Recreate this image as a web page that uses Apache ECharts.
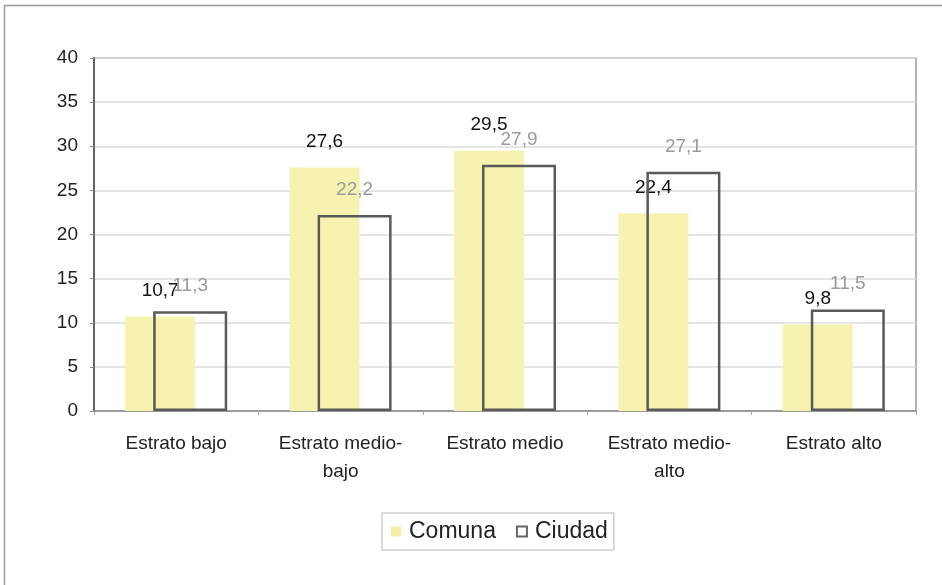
<!DOCTYPE html>
<html>
<head>
<meta charset="utf-8">
<script src="https://cdn.jsdelivr.net/npm/echarts@6/dist/echarts.min.js"></script>
<style>
  html,body{margin:0;padding:0;background:#fff;}
  #chart{width:942px;height:585px;}
</style>
</head>
<body>
<div id="chart"></div>
<script>
  // categorias y valores
  var categorias = ['Estrato bajo', 'Estrato medio-\nbajo', 'Estrato medio', 'Estrato medio-\nalto', 'Estrato alto'];
  var comuna = [10.7, 27.6, 29.5, 22.4, 9.8];
  var ciudad = [11.3, 22.2, 27.9, 27.1, 11.5];
  var yTicks = [0, 5, 10, 15, 20, 25, 30, 35, 40];

  var fuente = '"Liberation Sans", Arial, sans-serif';
  function coma(p){ return String(p.value).replace('.', ','); }

  var myChart = echarts.init(document.getElementById('chart'));
  myChart.setOption({
    animation: false,
    textStyle: { fontFamily: fuente },
    graphic: [
      // marco exterior de la imagen (solo arriba e izquierda)
      { type: 'polyline', shape: { points: [[4.5, 600], [4.5, 5.5], [950, 5.5]] },
        style: { fill: 'none', stroke: '#9a9a9a', lineWidth: 1.5 }, silent: true }
    ],
    grid: {
      left: 94, right: 26, top: 58, bottom: 174,
      show: true, borderColor: '#999', borderWidth: 1.5, backgroundColor: 'transparent'
    },
    legend: {
      left: 382, top: 513,
      padding: [7, 6, 7, 9],
      borderColor: '#cfcfcf', borderWidth: 1.5,
      itemWidth: 10, itemHeight: 10, itemGap: 20,
      textStyle: { fontSize: 23, color: '#222', fontFamily: fuente, padding: [0, 0, 0, 3] },
      data: [
        { name: 'Comuna', icon: 'rect', itemStyle: { color: '#f3f0a6', borderWidth: 0 } },
        { name: 'Ciudad', icon: 'rect', itemStyle: { color: '#fff', borderColor: '#666', borderWidth: 2 } }
      ]
    },
    xAxis: {
      type: 'category',
      data: categorias,
      axisLine: { lineStyle: { color: '#888', width: 1.5 } },
      axisTick: { show: true, length: 4, lineStyle: { color: '#aaa' } },
      axisLabel: { fontSize: 19, color: '#222', margin: 19, lineHeight: 28, fontFamily: fuente }
    },
    yAxis: {
      type: 'value',
      min: yTicks[0], max: yTicks[yTicks.length - 1], interval: 5,
      axisLine: { show: true, lineStyle: { color: '#666', width: 2 } },
      axisTick: { show: true, length: 4, lineStyle: { color: '#888' } },
      axisLabel: { fontSize: 19, color: '#222', margin: 16, fontFamily: fuente },
      splitLine: { lineStyle: { color: '#dcdcdc', width: 1.5 } }
    },
    series: [
      {
        name: 'Comuna',
        type: 'bar',
        data: comuna,
        barWidth: 70,
        barGap: '-60%',
        itemStyle: { color: '#f6f3b0' },
        label: { show: true, position: 'top', distance: 16, fontSize: 19, color: '#111', formatter: coma, fontFamily: fuente }
      },
      {
        name: 'Ciudad',
        type: 'bar',
        data: ciudad,
        barWidth: 74,
        z: 3,
        itemStyle: { color: 'rgba(255,255,255,0)', borderColor: '#5a5a5a', borderWidth: 2.5 },
        label: { show: true, position: 'top', distance: 16, fontSize: 19, color: '#9a9a9a', formatter: coma, fontFamily: fuente }
      }
    ]
  });
</script>
</body>
</html>
